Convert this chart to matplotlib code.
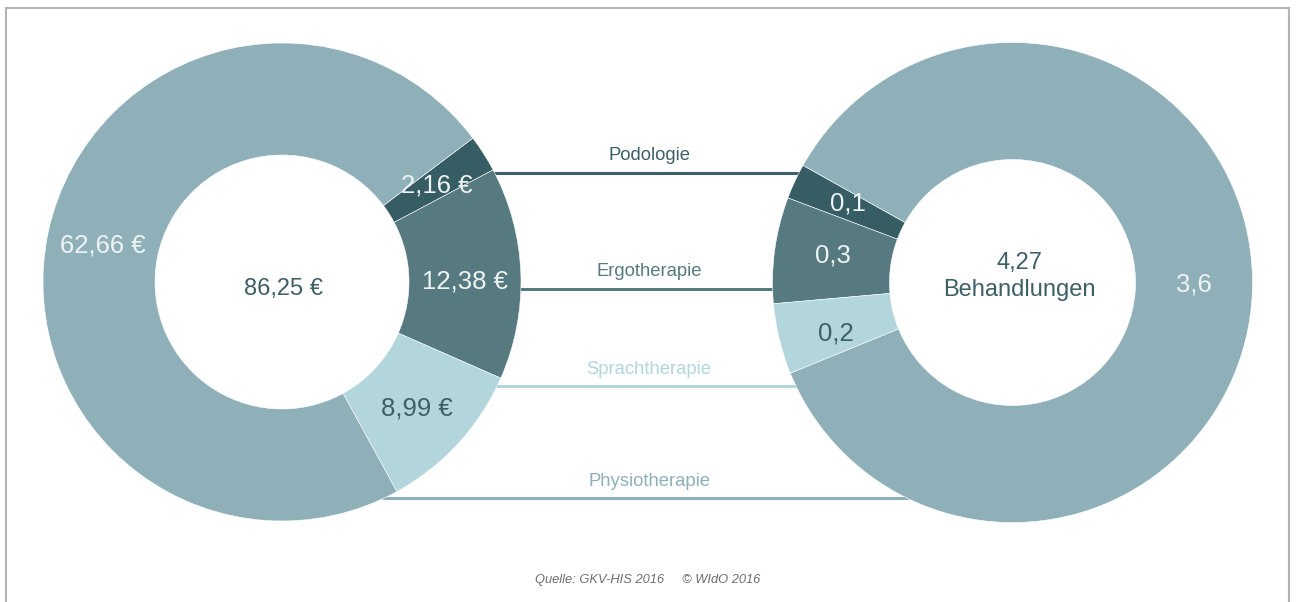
import numpy as np
import matplotlib
matplotlib.use("Agg")
import matplotlib.pyplot as plt
from matplotlib.lines import Line2D

# Data
categories = ["Podologie", "Ergotherapie", "Sprachtherapie", "Physiotherapie"]
ausgaben = [2.16, 12.38, 8.99, 62.66]          # Euro je Versicherten
behandlungen = [0.1, 0.3, 0.2, 3.6]            # Behandlungen je Versicherten
ausgaben_total = "86,25 €"
behandlungen_total = "4,27\nBehandlungen"
source = "Quelle: GKV-HIS 2016     © WIdO 2016"

# Styles
colors = ["#365c64", "#577a81", "#b2d6dc", "#8fb0b8"]
text_on_wedge = ["#eef3f4", "#eef3f4", "#3d5f66", "#eef3f4"]
label_colors = ["#3d6068", "#577a81", "#b2d6dc", "#8fb0b8"]
dark = "#3d5f66"

W, H = 1296, 602


def py(y):
	# convert image y (top-down) to axes y (bottom-up)
	return H - y


def fmt(v, decimals, suffix=""):
	return f"{v:.{decimals}f}".replace(".", ",") + suffix


plt.rcParams["font.family"] = ["Liberation Sans", "DejaVu Sans"]

fig = plt.figure(figsize=(W / 100, H / 100), dpi=100)
ax = fig.add_axes([0, 0, 1, 1])

# donut geometry (pixel units)
left_c, left_r, left_hole = (282, py(282)), 239, 127
right_c, right_r, right_hole = (1012.5, py(282.5)), 240, 123


def donut(values, center, radius, hole, start, ccw, labels, nudge):
	wedges, _ = ax.pie(
		values, colors=colors, center=center, radius=radius,
		startangle=start, counterclock=ccw,
		wedgeprops=dict(width=radius - hole, edgecolor="white", linewidth=0.4),
	)
	mid_r = (radius + hole) / 2
	for w, lab, tc, dy in zip(wedges, labels, text_on_wedge, nudge):
		ang = np.deg2rad((w.theta1 + w.theta2) / 2)
		ax.text(center[0] + mid_r * np.cos(ang), center[1] + mid_r * np.sin(ang) + dy,
				lab, ha="center", va="center", fontsize=18.5, color=tc, zorder=5)
	return wedges


donut(ausgaben, left_c, left_r, left_hole, 37, False,
	  [fmt(v, 2, " €") for v in ausgaben], [-2, -6, -3, -2])
donut(behandlungen, right_c, right_r, right_hole, 150.8, True,
	  [fmt(v, 1) for v in behandlungen], [3, 2, -8, 9])

ax.text(left_c[0] + 2, left_c[1] - 7, ausgaben_total, ha="center", va="center",
		fontsize=17, color=dark)
ax.text(right_c[0] + 7, right_c[1] + 6, behandlungen_total, ha="center", va="center",
		fontsize=17, color=dark, linespacing=1.3)

# connector lines with category names
line_y = [173, 289, 386, 498]
for cat, y, col in zip(categories, line_y, label_colors):
	yy = py(y)
	x0 = left_c[0] + np.sqrt(left_r ** 2 - (yy - left_c[1]) ** 2) - 2
	x1 = right_c[0] - np.sqrt(right_r ** 2 - (yy - right_c[1]) ** 2) + 2
	ax.plot([x0, x1], [yy, yy], color=col, lw=2.2, zorder=0.5, solid_capstyle="butt")
	ax.text(649, yy + 17, cat, ha="center", va="center", fontsize=13.3, color=col)

ax.set_xlim(0, W)
ax.set_ylim(0, H)
ax.set_aspect("auto")
ax.axis("off")

# frame
frame_col = "#b4b4b4"
fig.add_artist(Line2D([6 / W, 6 / W], [0, 1 - 8 / H], color=frame_col, lw=1.5))
fig.add_artist(Line2D([1289 / W, 1289 / W], [0, 1 - 8 / H], color=frame_col, lw=1.5))
fig.add_artist(Line2D([6 / W, 1289 / W], [1 - 8 / H, 1 - 8 / H], color=frame_col, lw=1.5))

fig.text(648 / W, 1 - 580 / H, source, ha="center", va="center", fontsize=9.3,
		 style="italic", color="#6e6e6e",
		 family=["Liberation Sans Narrow", "Liberation Sans", "DejaVu Sans"])

fig.savefig("out.png", dpi=100)
